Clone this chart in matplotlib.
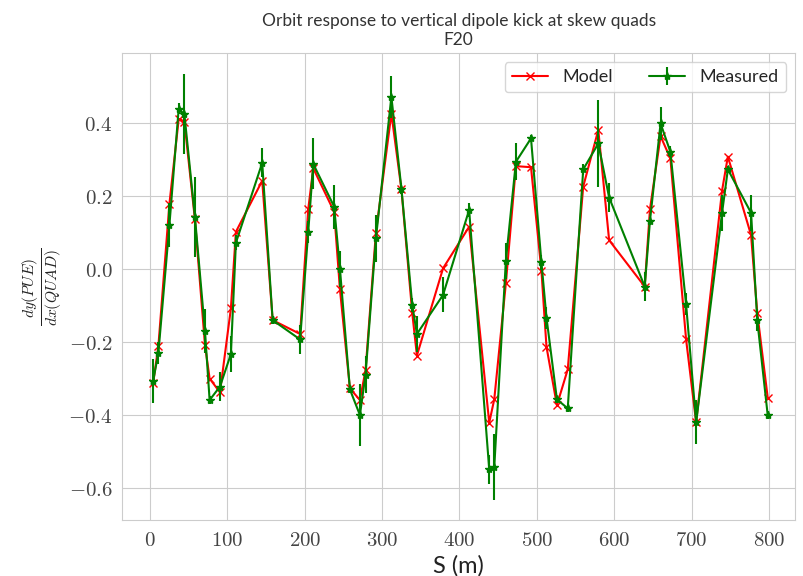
import matplotlib
matplotlib.use('Agg')
import matplotlib.pyplot as plt
import seaborn as sns
import numpy as np
from matplotlib.ticker import FuncFormatter

s = [4, 10.8, 25, 37, 44.4, 58, 71, 77, 90.4, 104.5, 111, 145, 158.5, 194, 204.5,
     211, 238, 245.5, 258.4, 271.3, 278.6, 292, 312, 325, 339, 345, 378.8, 412.5,
     438.5, 445, 460, 473, 492.5, 506, 512.5, 526, 540, 560, 579.5, 593.5, 639.5,
     646.3, 660, 672.7, 693, 706, 739.5, 747, 777, 785, 798.5]

model = [-0.313, -0.21, 0.178, 0.41, 0.404, 0.136, -0.208, -0.30, -0.338, -0.108,
         0.102, 0.242, -0.14, -0.178, 0.164, 0.276, 0.157, -0.056, -0.327, -0.359,
         -0.277, 0.10, 0.426, 0.218, -0.121, -0.237, 0.002, 0.116, -0.421, -0.357,
         -0.039, 0.282, 0.279, -0.005, -0.213, -0.373, -0.275, 0.226, 0.381, 0.079,
         -0.048, 0.164, 0.364, 0.303, -0.193, -0.42, 0.215, 0.308, 0.093, -0.12, -0.352]

measured = [-0.307, -0.229, 0.12, 0.439, 0.424, 0.143, -0.17, -0.359, -0.322, -0.233,
            0.072, 0.291, -0.14, -0.193, 0.102, 0.288, 0.171, 0.0, -0.33, -0.40,
            -0.289, 0.084, 0.472, 0.22, -0.099, -0.178, -0.071, 0.162, -0.549, -0.543,
            0.022, 0.294, 0.358, 0.018, -0.133, -0.357, -0.382, 0.273, 0.344, 0.196,
            -0.048, 0.132, 0.399, 0.321, -0.097, -0.42, 0.154, 0.273, 0.154, -0.14, -0.40]

err = [0.06, 0.03, 0.06, 0.015, 0.11, 0.11, 0.06, 0.01, 0.04, 0.05, 0.02, 0.04, 0.01,
       0.04, 0.03, 0.07, 0.06, 0.05, 0.01, 0.085, 0.05, 0.065, 0.057, 0.015, 0.02, 0.05,
       0.048, 0.02, 0.04, 0.09, 0.05, 0.05, 0.01, 0.02, 0.03, 0.01, 0.01, 0.015, 0.12,
       0.04, 0.04, 0.01, 0.046, 0.015, 0.03, 0.06, 0.05, 0.01, 0.05, 0.03, 0.01]

sns.set_style('whitegrid')
plt.rcParams['font.family'] = ['Lato', 'DejaVu Sans']
plt.rcParams['mathtext.fontset'] = 'cm'

fig = plt.figure(figsize=(8.04, 5.76), dpi=100)
ax = fig.add_axes([0.152, 0.097, 0.837, 0.811])

ax.plot(s, model, 'x-', color='red', lw=1.5, ms=6, label='Model')
ax.errorbar(s, measured, yerr=err, fmt='*-', color='green', lw=1.5, ms=6,
            elinewidth=1.5, label='Measured')

ax.set_xlim(-36, 834)
ax.set_ylim(-0.688, 0.592)
ax.set_yticks([-0.6, -0.4, -0.2, 0.0, 0.2, 0.4])
ax.set_xticks(range(0, 900, 100))
ax.xaxis.set_major_formatter(FuncFormatter(lambda v, p: r'$%d$' % v))
ax.yaxis.set_major_formatter(FuncFormatter(lambda v, p: r'$%.1f$' % v))
ax.tick_params(labelsize=15, colors='#444444')

ax.set_xlabel('S (m)', fontsize=17, color='#222222')
ax.set_ylabel(r'$\frac{dy(PUE)}{dx(QUAD)}$', fontsize=16, color='#222222')
ax.set_title('Orbit response to vertical dipole kick at skew quads\nF20',
             fontsize=12.5, color='#333333')
ax.legend(loc='upper right', ncol=2, fontsize=13)

plt.savefig('out.png', dpi=100)
